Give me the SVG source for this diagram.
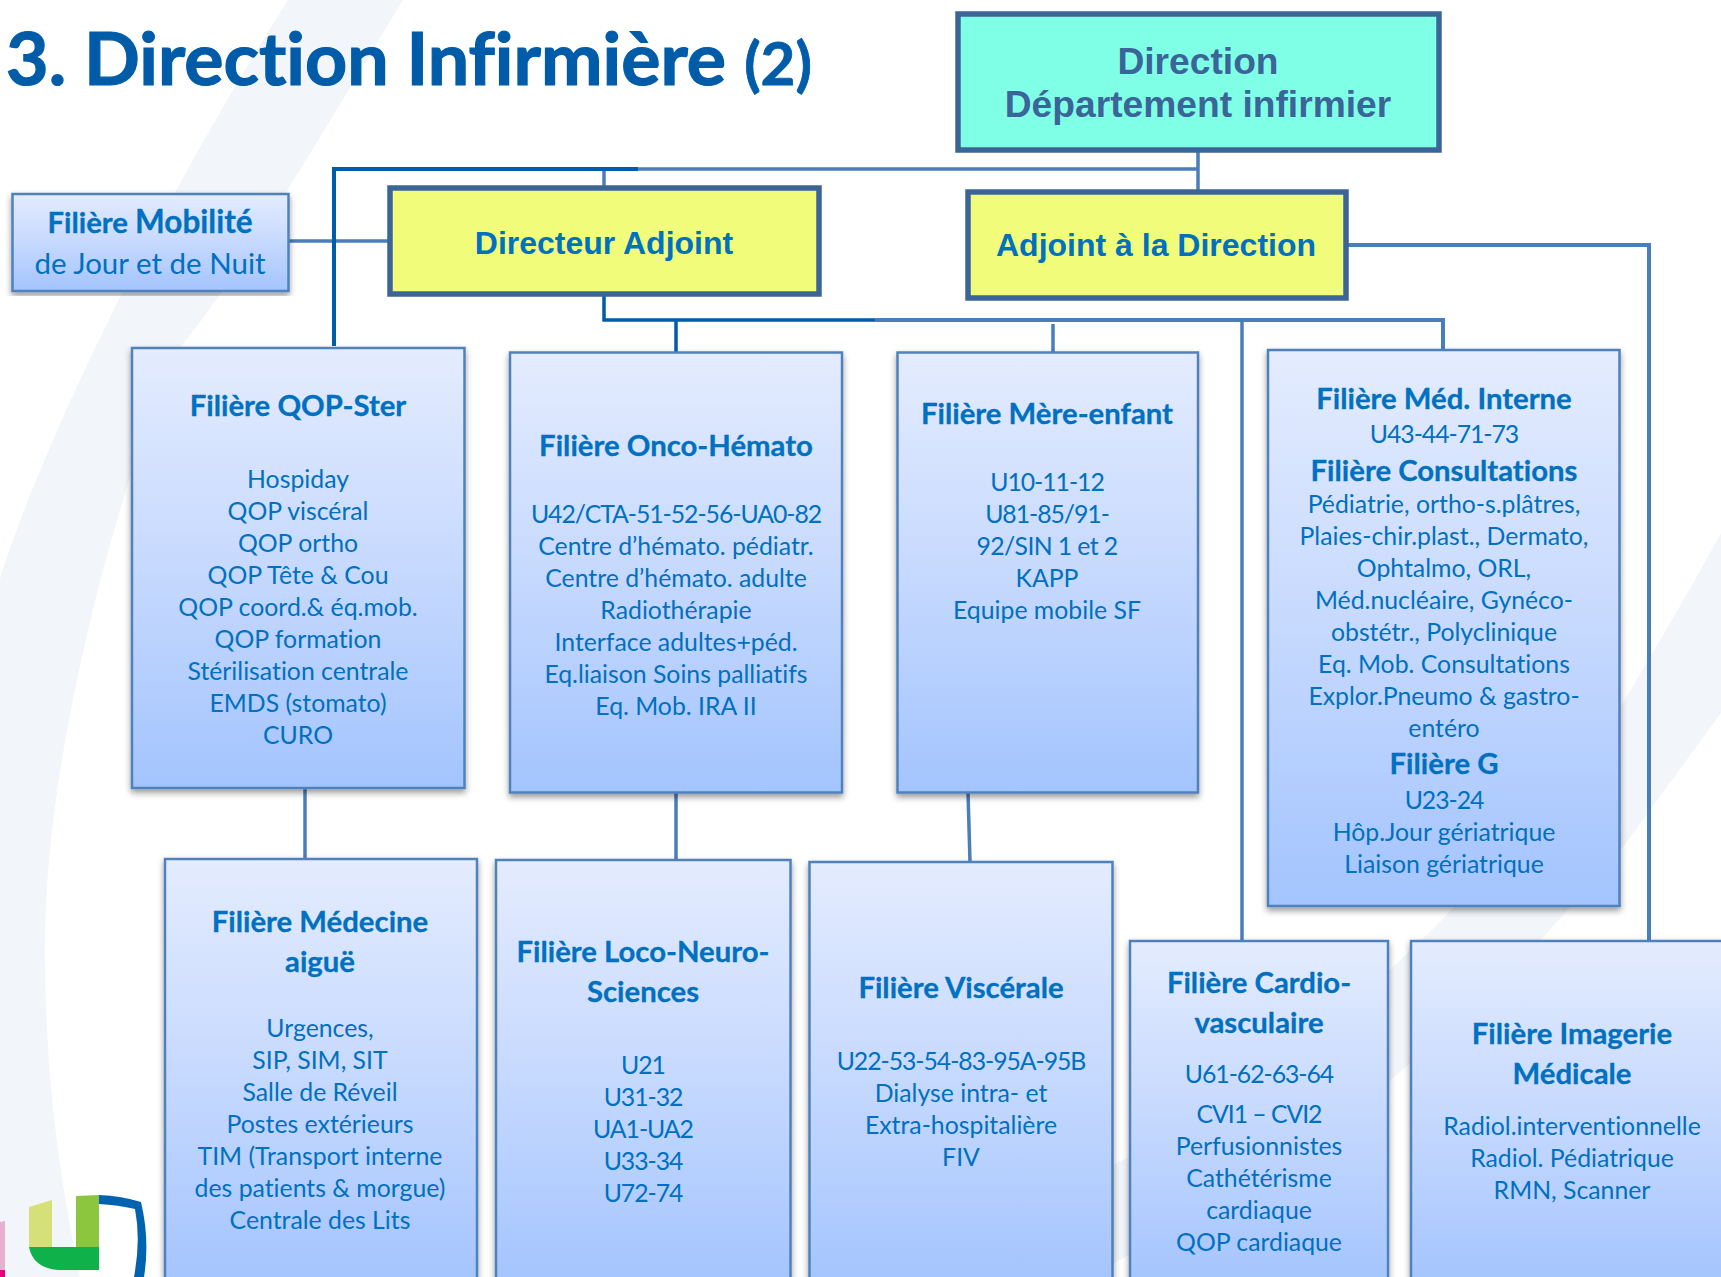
<svg xmlns="http://www.w3.org/2000/svg" width="1721" height="1277" viewBox="0 0 1721 1277">
<style>
text{font-family:"Lato","Carlito","Liberation Sans",sans-serif;fill:#0070C0;text-anchor:middle;font-variant-ligatures:none}
.t{font-size:29.300px;font-weight:700;stroke:#0070C0;stroke-width:.3px;transform:translateY(1px)}
.b{font-size:24.800px;transform:translateY(1px)}
.n{font-size:24.800px;letter-spacing:-1.050px;transform:translateY(1px)}
.a{font-family:"Liberation Sans",Arial,sans-serif;font-weight:700;font-size:32px}
.d{font-family:"Liberation Sans",Arial,sans-serif;font-weight:700;font-size:37.200px;fill:#3B6598}
.h{font-weight:700;fill:#005CA9;stroke:#005CA9}
.box{fill:url(#g);stroke:#4F81BD;stroke-width:2.500;filter:url(#s)}
.y{fill:#F1FC7B;stroke:#3B6598;stroke-width:5.500}
.c{fill:none;stroke:#4A7EBB;stroke-width:3.500}
.k{fill:none;stroke:#005CA9;stroke-width:3.500}
</style>
<defs>
<linearGradient id="g" x1="0" y1="0" x2="0" y2="1"><stop offset="0" stop-color="#E4ECFE"/><stop offset="0.5" stop-color="#C6D9FE"/><stop offset="1" stop-color="#A3C4FE"/></linearGradient>
<filter id="s" x="-5%" y="-5%" width="110%" height="110%"><feDropShadow dx="0" dy="3.500" stdDeviation="3" flood-color="#000" flood-opacity="0.4"/></filter>
</defs>
<rect width="1721" height="1277" fill="#fff"/>
<g id="background" fill="#F2F5FA">
<path d="M288 0L403 0C300 170 230 290 170 360C110 520 45 760 45 947C45 1080 60 1180 80 1277L0 1277L0 579C30 480 130 250 288 0Z"/>
<path d="M1721 533Q1690 590 1650 657L1623 703C1560 790 1500 860 1437 925C1340 1020 1230 1110 1121 1161C1040 1200 960 1225 880 1240L880 1277L1100 1270C1200 1220 1300 1160 1400 1072C1490 1000 1560 920 1623 847L1721 713Z"/>
</g>
<g id="logo">
<path d="M29 1207L52 1200L52 1247L29 1247Z" fill="#D5E178"/>
<path d="M76 1196L99 1195L99 1247L76 1247Z" fill="#8CC63F"/>
<path d="M29 1247L99 1247L99 1270L58 1270Q33 1268 29 1247Z" fill="#0FB14A"/>
<path d="M99 1195Q122 1196 141 1202Q150 1240 144 1277L134 1277Q141 1240 135 1209Q118 1205 99 1204Z" fill="#0063AF"/>
<path d="M0 1222L5 1221L5 1270L0 1270Z" fill="#E8B0D0"/>
<path d="M0 1270L5 1270L5 1277L0 1277Z" fill="#E6007E"/>
</g>
<g id="title">
<text class="h" x="6" y="85" style="text-anchor:start;font-size:73.500px;stroke-width:1.200px">3. Direction Infirmière</text>
<text class="h" x="778" y="85" style="font-size:60px;stroke-width:.8px">(2)</text>
</g>
<g id="connectors">
<path class="c" d="M638 169H1198M1198 152V194M604 169V186M288 241H388" />
<path class="k" style="stroke-width:4" d="M334 346V169H638"/>
<path class="c" style="stroke-width:4" d="M1347 245H1649V940"/>
<path class="k" d="M604 296V320H875M676 320V353"/>
<path class="c" style="stroke-width:4" d="M875 320H1443V350"/>
<path class="c" d="M1053 324V352M1242 320V941M305 788V859M676 792V860M968 792L970 862"/>
</g>
<g id="direction"><rect class="y" x="958" y="14" width="481" height="136" style="fill:#7FFFE6"/>
<text class="d" x="1198" y="74">Direction</text><text class="d" x="1198" y="117">Département infirmier</text></g>
<g id="directeur-adjoint"><rect class="y" x="390" y="188" width="429" height="106"/><text class="a" x="604" y="254">Directeur Adjoint</text></g>
<g id="adjoint-direction"><rect class="y" x="968" y="192" width="378" height="106"/><text class="a" x="1156" y="256">Adjoint à la Direction</text></g>
<g id="mobilite"><rect class="box" x="12.500" y="194" width="276" height="97"/>
<text x="150" y="232" class="t">Filière <tspan style="font-size:31.500px">Mobilité</tspan></text><text x="150" y="274" style="font-size:29.500px">de Jour et de Nuit</text></g>
<g id="qop"><rect class="box" x="132" y="348" width="332.500" height="440"/>
<text class="t" x="298" y="415">Filière QOP-Ster</text>
<text class="b" x="298" y="487">Hospiday</text><text class="b" x="298" y="519">QOP viscéral</text><text class="b" x="298" y="551">QOP ortho</text><text class="b" x="298" y="583">QOP Tête &amp; Cou</text><text class="b" x="298" y="615">QOP coord.&amp; éq.mob.</text><text class="b" x="298" y="647">QOP formation</text><text class="b" x="298" y="679">Stérilisation centrale</text><text class="b" x="298" y="711">EMDS (stomato)</text><text class="b" x="298" y="743">CURO</text></g>
<g id="onco"><rect class="box" x="510" y="352.500" width="332" height="440"/>
<text class="t" x="676" y="455">Filière Onco-Hémato</text>
<text class="n" x="676" y="522">U42/CTA-51-52-56-UA0-82</text><text class="b" x="676" y="554">Centre d’hémato. pédiatr.</text><text class="b" x="676" y="586">Centre d’hémato. adulte</text><text class="b" x="676" y="618">Radiothérapie</text><text class="b" x="676" y="650">Interface adultes+péd.</text><text class="b" x="676" y="682">Eq.liaison Soins palliatifs</text><text class="b" x="676" y="714">Eq. Mob. IRA II</text></g>
<g id="mere"><rect class="box" x="897.500" y="352.500" width="300.500" height="440"/>
<text class="t" x="1047" y="423">Filière Mère-enfant</text>
<text class="n" x="1047" y="490">U10-11-12</text><text class="n" x="1047" y="522">U81-85/91-</text><text class="b" x="1047" y="554" style="letter-spacing:-.6px">92/SIN 1 et 2</text><text class="b" x="1047" y="586">KAPP</text><text class="b" x="1047" y="618">Equipe mobile SF</text></g>
<g id="med-interne"><rect class="box" x="1268" y="350" width="351.500" height="556"/>
<text class="t" x="1444" y="408">Filière Méd. Interne</text><text class="n" x="1444" y="442">U43-44-71-73</text>
<text class="t" x="1444" y="480">Filière Consultations</text>
<text class="b" x="1444" y="512">Pédiatrie, ortho-s.plâtres,</text><text class="b" x="1444" y="544">Plaies-chir.plast., Dermato,</text><text class="b" x="1444" y="576">Ophtalmo, ORL,</text><text class="b" x="1444" y="608">Méd.nucléaire, Gynéco-</text><text class="b" x="1444" y="640">obstétr., Polyclinique</text><text class="b" x="1444" y="672">Eq. Mob. Consultations</text><text class="b" x="1444" y="704">Explor.Pneumo &amp; gastro-</text><text class="b" x="1444" y="736">entéro</text>
<text class="t" x="1444" y="773">Filière G</text><text class="n" x="1444" y="808">U23-24</text><text class="b" x="1444" y="840">Hôp.Jour gériatrique</text><text class="b" x="1444" y="872">Liaison gériatrique</text></g>
<g id="medecine"><rect class="box" x="165" y="859" width="312" height="430"/>
<text class="t" x="320" y="931">Filière Médecine</text><text class="t" x="320" y="971">aiguë</text>
<text class="b" x="320" y="1036">Urgences,</text><text class="b" x="320" y="1068">SIP, SIM, SIT</text><text class="b" x="320" y="1100">Salle de Réveil</text><text class="b" x="320" y="1132">Postes extérieurs</text><text class="b" x="320" y="1164">TIM (Transport interne</text><text class="b" x="320" y="1196">des patients &amp; morgue)</text><text class="b" x="320" y="1228">Centrale des Lits</text></g>
<g id="loco"><rect class="box" x="496" y="860" width="294.500" height="429"/>
<text class="t" x="643" y="961">Filière Loco-Neuro-</text><text class="t" x="643" y="1001">Sciences</text>
<text class="n" x="643" y="1073">U21</text><text class="n" x="643" y="1105">U31-32</text><text class="n" x="643" y="1137">UA1-UA2</text><text class="n" x="643" y="1169">U33-34</text><text class="n" x="643" y="1201">U72-74</text></g>
<g id="viscerale"><rect class="box" x="809.500" y="862" width="303" height="427"/>
<text class="t" x="961" y="997">Filière Viscérale</text>
<text class="n" x="961" y="1069">U22-53-54-83-95A-95B</text><text class="b" x="961" y="1101">Dialyse intra- et</text><text class="b" x="961" y="1133">Extra-hospitalière</text><text class="b" x="961" y="1165">FIV</text></g>
<g id="cardio"><rect class="box" x="1130" y="941" width="258" height="348"/>
<text class="t" x="1259" y="992">Filière Cardio-</text><text class="t" x="1259" y="1032">vasculaire</text>
<text class="n" x="1259" y="1082">U61-62-63-64</text><text class="n" x="1259" y="1122">CVI1 – CVI2</text><text class="b" x="1259" y="1154">Perfusionnistes</text><text class="b" x="1259" y="1186">Cathétérisme</text><text class="b" x="1259" y="1218">cardiaque</text><text class="b" x="1259" y="1250">QOP cardiaque</text></g>
<g id="imagerie"><rect class="box" x="1411" y="941" width="330" height="348"/>
<text class="t" x="1572" y="1043">Filière Imagerie</text><text class="t" x="1572" y="1083">Médicale</text>
<text class="b" x="1572" y="1134">Radiol.interventionnelle</text><text class="b" x="1572" y="1166">Radiol. Pédiatrique</text><text class="b" x="1572" y="1198">RMN, Scanner</text></g>
</svg>
